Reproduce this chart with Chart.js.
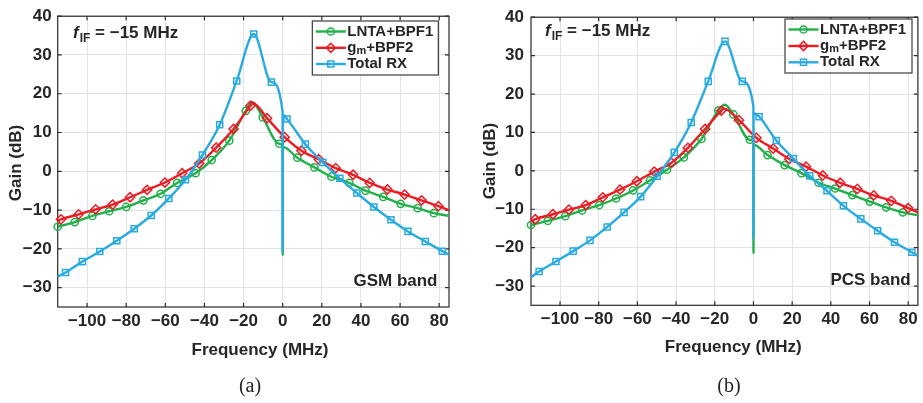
<!DOCTYPE html>
<html><head><meta charset="utf-8">
<script src="https://cdn.jsdelivr.net/npm/chart.js@4/dist/chart.umd.min.js"></script>
<style>
html,body{margin:0;padding:0;background:#fff;}
#wrap{position:relative;width:923px;height:403px;overflow:hidden;background:#fff;}
canvas{position:absolute;top:0;}
</style></head><body>
<div id="wrap">
<canvas id="ca" width="461" height="403" style="left:0"></canvas>
<canvas id="cb" width="462" height="403" style="left:461px"></canvas>
</div>
<script>
// ---------- tick labels / names ----------
const xTicks = [-100, -80, -60, -40, -20, 0, 20, 40, 60, 80];
const yTicks = [-30, -20, -10, 0, 10, 20, 30, 40];
const seriesNames = ['LNTA+BPF1', 'gm+BPF2', 'Total RX'];
const panelLabels = ['(a)', '(b)'];
const bandLabels = ['GSM band', 'PCS band'];
const ifLabel = '= \u221215 MHz';

// ---------- panel (a) GSM band ----------
// marker points
const aGreenX = [-115, -106.3, -97.3, -88.7, -80, -71.2, -62.4, -54, -44.5, -36.3, -27.3, -18.9, -10.2, -1.7, 7.5, 16.2, 24.9, 34, 42.3, 51.4, 60.3, 69, 77.3];
const aGreenY = [-14.3, -13.1, -11.5, -10.3, -9.2, -7.5, -5.8, -3.0, -0.5, 2.9, 7.9, 15.6, 13.9, 7.1, 3.5, 1.0, -1.4, -3.0, -5.0, -6.6, -8.4, -9.5, -10.8];
// line-only points (peak, notch, end)
const aGreenLX = [-15.5, -0.05, 0, 0.05, 85];
const aGreenLY = [17.8, 6.6, -21.6, 6.3, -11.5];

const aRedX = [-113.3, -104.3, -95.6, -86.9, -78, -69.3, -60.2, -51.4, -42.7, -34, -25.1, -16.5, -8, 1, 9.6, 18.4, 27.1, 36, 44.5, 53.5, 62.3, 71, 79.6];
const aRedY = [-12.4, -11.1, -9.8, -8.6, -6.7, -4.8, -2.9, -0.5, 2.0, 6.1, 10.9, 16.9, 13.7, 8.8, 5.3, 3.1, 0.8, -0.9, -3.0, -4.7, -6.0, -7.5, -9.0];
const aRedLX = [-115, -15.3, 85];
const aRedLY = [-12.8, 17.6, -10.0];

const aBlueX = [-111, -102.4, -93.5, -84.8, -75.9, -67.2, -58.2, -49.7, -41, -32.2, -23.5, -14.8, -5.8, 2.2, 11.6, 20.5, 29.2, 37.9, 46.6, 55.3, 64, 72.9, 81.6];
const aBlueY = [-26.1, -23.3, -20.7, -17.9, -14.8, -11.4, -7.0, -2.2, 4.2, 12.0, 23.3, 35.4, 23.0, 13.5, 7.0, 2.3, -1.8, -5.6, -9.2, -12.5, -15.5, -18.1, -20.6];
const aBlueLX = [-115, -0.05, 0, 0.05, 85];
const aBlueLY = [-27.2, 15.3, -20.8, 14.6, -21.5];

// ---------- panel (b) PCS band ----------
const bGreenX = [-115, -106.3, -97.3, -88.6, -79.7, -71, -62.2, -53.5, -44.7, -36, -26.9, -18.2, -10.4, -1.9, 7.3, 16.1, 24.8, 33.7, 42.2, 51.1, 60.1, 68.6, 77.2];
const bGreenY = [-14.1, -13.0, -11.8, -10.3, -8.9, -7.2, -5.1, -2.5, 0.3, 3.5, 8.3, 15.7, 14.7, 8.1, 4.1, 1.5, -0.6, -3.1, -4.6, -6.3, -8.0, -9.5, -10.8];
const bGreenLX = [-14.8, -0.05, 0, 0.05, 85];
const bGreenLY = [17.2, 7.6, -21.4, 6.8, -11.6];

const bRedX = [-112.8, -103.7, -95.4, -86.7, -77.9, -69, -60.3, -51.3, -42.4, -33.9, -25, -16.6, -7.5, 1.5, 10.2, 18.5, 27.2, 35.9, 44.8, 53.7, 62.2, 71.2, 80];
const bRedY = [-12.6, -11.3, -10.1, -8.9, -6.9, -4.9, -2.7, -0.2, 2.1, 6.0, 10.9, 15.7, 13.2, 8.6, 5.8, 3.1, 1.1, -1.2, -3.1, -4.7, -6.4, -7.8, -9.7];
const bRedLX = [-115, -15.3, 85];
const bRedLY = [-13.2, 16.2, -10.8];

const bBlueX = [-110.8, -102.1, -93.2, -84.5, -75.6, -66.9, -58.3, -49.8, -40.9, -32.2, -23.4, -14.7, -5.8, 2.9, 11.8, 20.6, 29.1, 38, 46.5, 55.5, 64.2, 72.9, 81.9];
const bBlueY = [-26.2, -23.6, -20.9, -18.1, -14.6, -10.8, -6.7, -1.4, 4.8, 12.6, 23.3, 33.7, 23.3, 14.1, 7.9, 3.2, -1.3, -5.2, -9.1, -12.5, -15.6, -18.6, -21.2];
const bBlueLX = [-115, -0.05, 0, 0.05, 85];
const bBlueLY = [-27.7, 16.8, -17.5, 15.0, -22.2];

// ---------- styling ----------
const COLORS = { green: '#22b04b', red: '#ec1c24', blue: '#29abe2' };
const TXT = '#262626';
const FONT = '"Liberation Sans", Arial, sans-serif';

function buildSeries(mx, my, lx, ly) {
  const pts = [];
  mx.forEach((x, i) => pts.push({ x: x, y: my[i], m: true }));
  lx.forEach((x, i) => pts.push({ x: x, y: ly[i], m: false }));
  pts.sort((a, b) => a.x - b.x);
  return pts;
}

const MARK = {
  green: { style: 'circle', r: 3.6 },
  red: { style: 'rectRot', r: 4.6 },
  blue: { style: 'rect', r: 4.3 }
};

function ds(label, data, key) {
  const mk = MARK[key];
  return {
    label: label,
    data: data,
    borderColor: COLORS[key],
    borderWidth: 2.4,
    backgroundColor: COLORS[key],
    cubicInterpolationMode: 'monotone',
    pointStyle: mk.style,
    pointRadius: c => (c.raw && c.raw.m) ? mk.r : 0,
    pointHoverRadius: c => (c.raw && c.raw.m) ? mk.r : 0,
    pointBorderColor: COLORS[key],
    pointBackgroundColor: 'rgba(0,0,0,0)',
    pointBorderWidth: 1.5,
    clip: 8
  };
}

function makePanel(canvasId, L, series) {
  const deco = {
    id: 'deco' + canvasId,
    beforeDatasetsDraw(chart) {
      const ctx = chart.ctx, a = chart.chartArea;
      const xs = chart.scales.x, ys = chart.scales.y;
      ctx.save();
      ctx.strokeStyle = '#2a2a2a';
      ctx.lineWidth = 1.2;
      ctx.strokeRect(a.left, a.top, a.right - a.left, a.bottom - a.top);
      ctx.beginPath();
      const tl = 4;
      xTicks.forEach(v => {
        const p = xs.getPixelForValue(v);
        ctx.moveTo(p, a.bottom); ctx.lineTo(p, a.bottom - tl);
        ctx.moveTo(p, a.top); ctx.lineTo(p, a.top + tl);
      });
      yTicks.forEach(v => {
        const p = ys.getPixelForValue(v);
        ctx.moveTo(a.left, p); ctx.lineTo(a.left + tl, p);
        ctx.moveTo(a.right, p); ctx.lineTo(a.right - tl, p);
      });
      ctx.stroke();
      ctx.restore();
    },
    afterDraw(chart) {
      const ctx = chart.ctx;
      ctx.save();
      ctx.fillStyle = TXT;
      // axis titles
      ctx.font = 'bold 17px ' + FONT;
      ctx.textAlign = 'center';
      ctx.textBaseline = 'middle';
      ctx.fillText('Frequency (MHz)', L.xTitle[0], L.xTitle[1]);
      ctx.save();
      ctx.translate(L.yTitle[0], L.yTitle[1]);
      ctx.rotate(-Math.PI / 2);
      ctx.fillText('Gain (dB)', 0, 0);
      ctx.restore();
      // band label
      ctx.textAlign = 'right';
      ctx.textBaseline = 'alphabetic';
      ctx.fillText(L.band, L.bandPos[0], L.bandPos[1]);
      // f_IF label
      ctx.textAlign = 'left';
      let x = L.ifPos[0];
      const yb = L.ifPos[1];
      ctx.font = 'italic bold 17px ' + FONT;
      ctx.fillText('f', x, yb);
      x += ctx.measureText('f').width + 1;
      ctx.font = 'bold 12px ' + FONT;
      ctx.fillText('IF', x, yb + 4);
      x += ctx.measureText('IF').width;
      ctx.font = 'bold 17px ' + FONT;
      ctx.fillText(' ' + ifLabel, x, yb);
      // caption
      ctx.font = '20px "Liberation Serif", "Times New Roman", serif';
      ctx.textAlign = 'center';
      ctx.textBaseline = 'middle';
      ctx.fillText(L.caption, L.capPos[0], L.capPos[1]);
      // legend
      const g = L.legend;
      ctx.fillStyle = '#fff';
      ctx.fillRect(g.x, g.y, g.w, g.h);
      ctx.strokeStyle = '#2a2a2a';
      ctx.lineWidth = 1.1;
      ctx.strokeRect(g.x, g.y, g.w, g.h);
      const keys = ['green', 'red', 'blue'];
      keys.forEach((k, i) => {
        const ry = g.rows[i];
        ctx.strokeStyle = COLORS[k];
        ctx.lineWidth = 2.4;
        ctx.beginPath();
        ctx.moveTo(g.x + 3.5, ry);
        ctx.lineTo(g.x + 33.5, ry);
        ctx.stroke();
        ctx.strokeStyle = COLORS[k];
        ctx.fillStyle = 'rgba(0,0,0,0)';
        ctx.lineWidth = 1.5;
        Chart.helpers.drawPoint(ctx, { pointStyle: MARK[k].style, radius: MARK[k].r, borderWidth: 1.5, rotation: 0 }, g.x + 18.5, ry);
        ctx.fillStyle = TXT;
        ctx.textAlign = 'left';
        ctx.textBaseline = 'middle';
        let tx = g.x + 35;
        const name = seriesNames[i];
        if (name.startsWith('gm')) {
          ctx.font = 'bold 15px ' + FONT;
          ctx.fillText('g', tx, ry);
          tx += ctx.measureText('g').width;
          ctx.font = 'bold 11px ' + FONT;
          ctx.fillText('m', tx, ry + 3);
          tx += ctx.measureText('m').width;
          ctx.font = 'bold 15px ' + FONT;
          ctx.fillText(name.slice(2), tx, ry);
        } else {
          ctx.font = 'bold 15px ' + FONT;
          ctx.fillText(name, tx, ry);
        }
      });
      ctx.restore();
    }
  };

  return new Chart(document.getElementById(canvasId), {
    type: 'line',
    data: {
      datasets: [
        ds(seriesNames[2], series.blue, 'blue'),
        ds(seriesNames[1], series.red, 'red'),
        ds(seriesNames[0], series.green, 'green')
      ]
    },
    options: {
      responsive: false,
      devicePixelRatio: 1,
      animation: false,
      events: [],
      layout: { padding: L.pad },
      plugins: { legend: { display: false }, tooltip: { enabled: false } },
      scales: {
        x: {
          type: 'linear', min: -115, max: 85,
          afterBuildTicks: s => { s.ticks = xTicks.map(v => ({ value: v })); },
          afterFit: s => { s.height = L.xh; },
          grid: { color: '#e2e2e2', lineWidth: 1, drawTicks: false },
          border: { display: false },
          ticks: {
            padding: 4, color: TXT, maxRotation: 0, autoSkip: false,
            font: { family: FONT, size: 17, weight: 'bold' },
            callback: v => v < 0 ? '\u2212' + Math.abs(v) : String(v)
          }
        },
        y: {
          type: 'linear', min: -35, max: 40,
          afterBuildTicks: s => { s.ticks = yTicks.map(v => ({ value: v })); },
          afterFit: s => { s.width = L.yw; },
          grid: { color: '#e2e2e2', lineWidth: 1, drawTicks: false },
          border: { display: false },
          ticks: {
            padding: L.ytp, color: TXT, autoSkip: false,
            font: { family: FONT, size: 17, weight: 'bold' },
            callback: v => v < 0 ? '\u2212' + Math.abs(v) : String(v)
          }
        }
      }
    },
    plugins: [deco]
  });
}

makePanel('ca', {
  pad: { left: 0, right: 12, top: 12.5, bottom: 0 },
  yw: 57.7, xh: 96, ytp: 6,
  xTitle: [260, 350], yTitle: [16, 163],
  band: bandLabels[0], bandPos: [437.5, 286],
  ifPos: [73, 38], caption: panelLabels[0], capPos: [250, 387],
  legend: { x: 312.3, y: 21, w: 126, h: 54, rows: [31.5, 47.8, 64] }
}, {
  green: buildSeries(aGreenX, aGreenY, aGreenLX, aGreenLY),
  red: buildSeries(aRedX, aRedY, aRedLX, aRedLY),
  blue: buildSeries(aBlueX, aBlueY, aBlueLX, aBlueLY)
});

makePanel('cb', {
  pad: { left: 0, right: 1.3, top: 10, bottom: 0 },
  yw: 70, xh: 97.7, ytp: 7,
  xTitle: [272.3, 347.5], yTitle: [29, 161],
  band: bandLabels[1], bandPos: [449.7, 285],
  ifPos: [84, 36], caption: panelLabels[1], capPos: [268, 387],
  legend: { x: 324, y: 19, w: 127, h: 54, rows: [29.5, 46, 62.3] }
}, {
  green: buildSeries(bGreenX, bGreenY, bGreenLX, bGreenLY),
  red: buildSeries(bRedX, bRedY, bRedLX, bRedLY),
  blue: buildSeries(bBlueX, bBlueY, bBlueLX, bBlueLY)
});
</script>
</body></html>
